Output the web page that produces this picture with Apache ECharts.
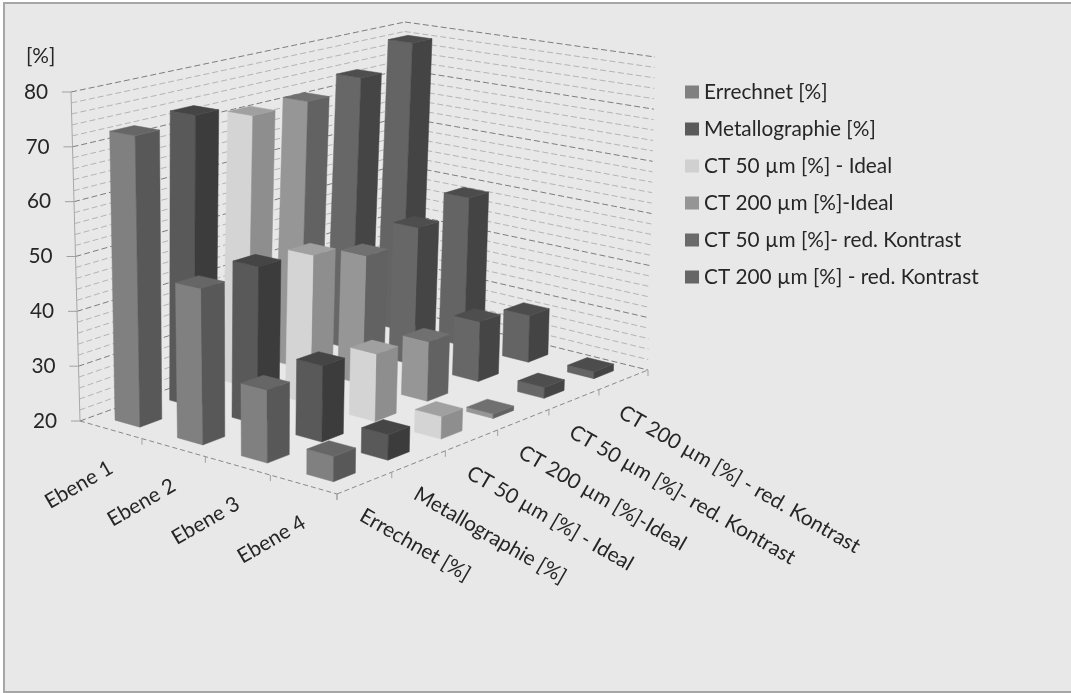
<!DOCTYPE html>
<html>
<head>
<meta charset="utf-8">
<style>
  html, body { margin: 0; background: #fff; }
  #main { width: 1071px; height: 693px; }
</style>
<script src="https://cdn.jsdelivr.net/npm/echarts@6/dist/echarts.min.js"></script>
</head>
<body>
<div id="main"></div>
<script>
const ebenen = ['Ebene 1', 'Ebene 2', 'Ebene 3', 'Ebene 4']
const reihen = ['Errechnet [%]', 'Metallographie [%]', 'CT 50 µm [%] - Ideal', 'CT 200 µm [%]-Ideal', 'CT 50 µm [%]- red. Kontrast', 'CT 200 µm [%] - red. Kontrast']

const errechnet = [72.7, 47.7, 32.7, 24.3]
const metallographie = [73.9, 48.5, 33.5, 24.4]
const ct50Ideal = [71.3, 47.5, 32.2, 24]
const ct200Ideal = [71.5, 44.3, 31, 20.8]
const ct50Red = [73.7, 46.6, 31.3, 22]
const ct200Red = [78.4, 49.4, 29, 21.3]
const yTicks = [20, 30, 40, 50, 60, 70, 80]
const yGridLines = [20, 22, 24, 26, 28, 30, 32, 34, 36, 38, 40, 42, 44, 46, 48, 50, 52, 54, 56, 58, 60, 62, 64, 66, 68, 70, 72, 74, 76, 78, 80]

const werte = [errechnet, metallographie, ct50Ideal, ct200Ideal, ct50Red, ct200Red]

// Flaechenfarben je Reihe: links, rechts, oben, Legende
const farben = [
  ['#808080', '#585858', '#666666', '#808080'],
  ['#595959', '#3c3c3c', '#454545', '#5a5a5a'],
  ['#d4d4d4', '#8e8e8e', '#a0a0a0', '#d0d0d0'],
  ['#969696', '#626262', '#707070', '#959595'],
  ['#676767', '#454545', '#4e4e4e', '#6a6a6a'],
  ['#646464', '#444444', '#4c4c4c', '#666666'],
]

const FONT = '20.8px Lato'

// Ecken des 3D-Rahmens auf dem Bild: Boden und Oberkante (u entlang Ebenen, v entlang Reihen)
const boden = {a: [80, 421], b: [337, 494], c: [648, 370], d: [393, 307]}
const decke = {a: [71, 92], b: [339, 137], c: [655, 57], d: [405, 22]}
const SAEULE = 0.2 // halbe Saeulenbreite in Zellen

// Einheitsquadrat -> Viereck (projektiv)
const makeHomography = ({a, b, c, d}) => {
  const dx1 = b[0] - c[0], dx2 = d[0] - c[0], sx = a[0] - b[0] + c[0] - d[0]
  const dy1 = b[1] - c[1], dy2 = d[1] - c[1], sy = a[1] - b[1] + c[1] - d[1]
  const den = dx1 * dy2 - dx2 * dy1
  const g = (sx * dy2 - dx2 * sy) / den
  const h = (dx1 * sy - sx * dy1) / den
  return (u, v) => {
    const w = g * u + h * v + 1
    return [
      ((b[0] - a[0] + g * b[0]) * u + (d[0] - a[0] + h * d[0]) * v + a[0]) / w,
      ((b[1] - a[1] + g * b[1]) * u + (d[1] - a[1] + h * d[1]) * v + a[1]) / w,
    ]
  }
}
const floorAt = makeHomography(boden)
const topAt = makeHomography(decke)

// u, v in Zellen, t ist der Anteil 0..1 der y-Achse
const project = (u, v, t) => {
  const p0 = floorAt(u / ebenen.length, v / reihen.length)
  const p1 = topAt(u / ebenen.length, v / reihen.length)
  return [p0[0] + (p1[0] - p0[0]) * t, p0[1] + (p1[1] - p0[1]) * t]
}

// Anteil auf der y-Achse ueber die Skala der Achse selbst
const axisShare = (api, value) => {
  const y0 = api.coord([0, 20])[1]
  const y1 = api.coord([0, 80])[1]
  return (y0 - api.coord([0, value])[1]) / (y0 - y1)
}

const poly = (points, fill, z2) => ({
  type: 'polygon',
  z2,
  shape: {points},
  style: {fill, stroke: fill, lineWidth: 0.5},
})

const renderBar = (j) => (params, api) => {
  const i = api.value(0)
  const t = axisShare(api, api.value(1))
  const uc = i + 0.5, vc = j + 0.5
  const u0 = uc - SAEULE, u1 = uc + SAEULE, v0 = vc - SAEULE, v1 = vc + SAEULE
  const z2 = 100 + i - j
  const c = farben[j]
  return {
    type: 'group',
    children: [
      poly([project(u0, v0, 0), project(u1, v0, 0), project(u1, v0, t), project(u0, v0, t)], c[0], z2),
      poly([project(u1, v0, 0), project(u1, v1, 0), project(u1, v1, t), project(u1, v0, t)], c[1], z2),
      poly([project(u0, v0, t), project(u1, v0, t), project(u1, v1, t), project(u0, v1, t)], c[2], z2),
    ],
  }
}

const seg = (p, q, stroke, lineWidth, lineDash) => ({
  type: 'line',
  z2: 1,
  shape: {x1: p[0], y1: p[1], x2: q[0], y2: q[1]},
  style: {stroke, lineWidth, lineDash: lineDash || null},
})

// Waende: gestrichelte Linien je Wert
const renderWall = (params, api) => {
  const val = api.value(1)
  const t = axisShare(api, val)
  const major = yTicks.includes(val)
  const stroke = major ? '#7d7d7d' : '#b4b4b4'
  const dash = [6, 3]
  return {
    type: 'group',
    children: [
      seg(project(0, 0, t), project(0, reihen.length, t), stroke, 1, dash),
      seg(project(0, reihen.length, t), project(ebenen.length, reihen.length, t), stroke, 1, dash),
    ],
  }
}

const txt = (text, p, rotation, align) => ({
  type: 'text',
  x: p[0],
  y: p[1],
  rotation,
  z2: 200,
  style: {
    text,
    fill: '#262626',
    font: FONT,
    align,
    verticalAlign: 'middle',
  },
})

// y-Achse mit Strichen und Beschriftung, folgt der Neigung der Kante
const renderYTick = (params, api) => {
  const val = api.value(1)
  const p = project(0, 0, axisShare(api, val))
  return {
    type: 'group',
    children: [
      seg([p[0] - 9, p[1]], p, '#a0a0a0', 1),
      txt(String(val), [p[0] - 23, p[1]], 0, 'right'),
    ],
  }
}

const renderEbene = (params, api) => {
  const i = api.value(0)
  const p = project(i + 0.5, 0, 0)
  const ticks = project(i + 1, 0, 0)
  return {
    type: 'group',
    children: [
      seg(ticks, [ticks[0], ticks[1] + 6], '#a0a0a0', 1),
      txt(ebenen[i], [p[0] - 32, p[1] + 55], Math.PI / 6, 'center'),
    ],
  }
}

const renderReihe = (params, api) => {
  const j = api.value(0)
  const p = project(ebenen.length, j + 0.5, 0)
  const ticks = project(ebenen.length, j + 1, 0)
  return {
    type: 'group',
    children: [
      seg(ticks, [ticks[0], ticks[1] + 6], '#a0a0a0', 1),
      txt(reihen[j], [p[0] - 3, p[1] + 31], -Math.PI / 6, 'left'),
    ],
  }
}

const renderRahmen = (params, api) => {
  const n = ebenen.length, m = reihen.length
  const top = axisShare(api, 80)
  const bp = project(n, 0, 0)
  return {
    type: 'group',
    children: [
      seg(project(0, 0, 0), project(0, 0, top), '#a8a8a8', 1),
      seg(project(0, 0, 0), bp, '#8a8a8a', 1, [5, 3]),
      seg(bp, project(n, m, 0), '#8a8a8a', 1, [5, 3]),
      seg(bp, [bp[0], bp[1] + 6], '#a0a0a0', 1),
    ],
  }
}

const customSeries = (name, data, renderItem) => ({
  name,
  type: 'custom',
  coordinateSystem: 'cartesian2d',
  silent: true,
  clip: false,
  renderItem,
  data,
})

const chart = echarts.init(document.getElementById('main'))
chart.setOption({
  animation: false,
  textStyle: {fontFamily: 'Lato'},
  graphic: [
    {
      type: 'rect',
      z: -10,
      silent: true,
      shape: {x: 4, y: 3, width: 1080, height: 689},
      style: {fill: '#e8e8e8', stroke: '#a6a6a6', lineWidth: 2},
    },
    {
      type: 'text',
      x: 26,
      y: 46,
      silent: true,
      style: {text: '[%]', fill: '#262626', font: FONT},
    },
  ],
  grid: {left: 80, top: 92, width: 400, height: 330},
  xAxis: {type: 'value', min: 0, max: 6, show: false},
  yAxis: {type: 'value', min: 20, max: 80, interval: 10, show: false},
  legend: {
    orient: 'vertical',
    left: 680,
    top: 75,
    itemWidth: 14,
    itemHeight: 13,
    itemGap: 13,
    textStyle: {fontSize: 20.8, fontFamily: 'Lato', color: '#262626', lineHeight: 24},
    data: reihen.map((name, j) => ({name, icon: 'rect', itemStyle: {color: farben[j][3]}})),
  },
  series: [
    customSeries('waende', yGridLines.map(v => [0, v]), renderWall),
    customSeries('rahmen', [[0, 80]], renderRahmen),
    customSeries('yticks', yTicks.map(v => [0, v]), renderYTick),
    customSeries('ebenen', ebenen.map((e, i) => [i, 20]), renderEbene),
    customSeries('reihen', reihen.map((r, j) => [j, 20]), renderReihe),
    ...reihen.map((name, j) => ({
      ...customSeries(name, werte[j].map((v, i) => [i, v]), renderBar(j)),
      itemStyle: {color: farben[j][3]},
    })),
  ],
})
</script>
</body>
</html>
